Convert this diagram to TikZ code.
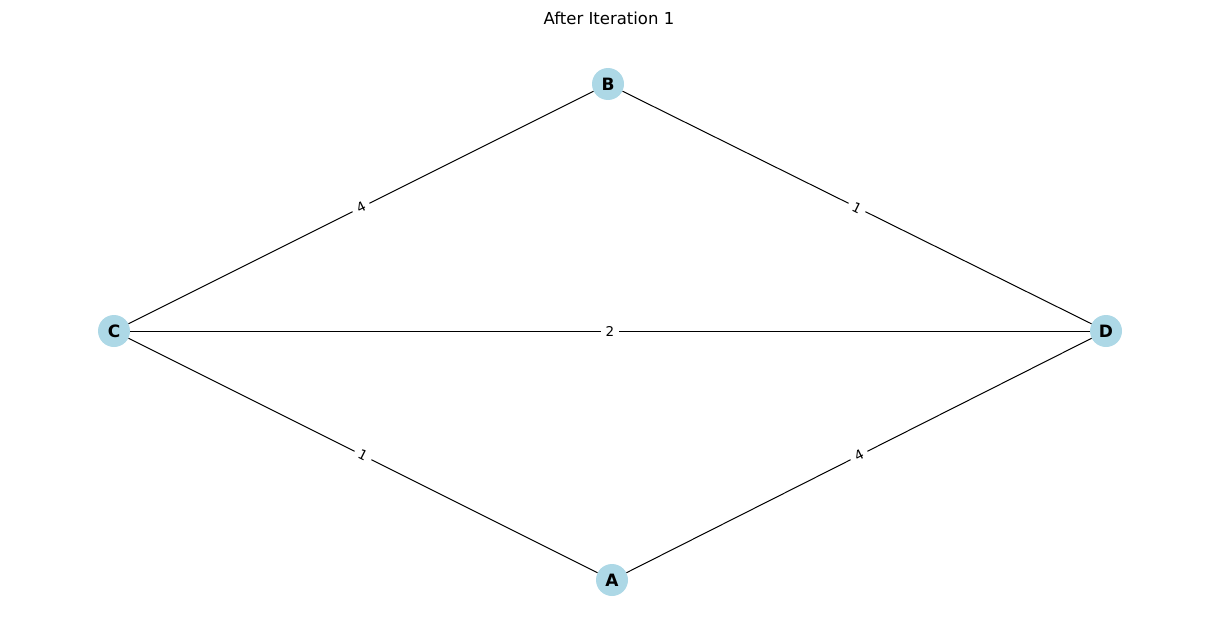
\documentclass[tikz,border=0pt]{standalone}
\usepackage{fontspec}
\setmainfont{DejaVu Sans}
\definecolor{nodeblue}{RGB}{173,216,230}
\begin{document}
\begin{tikzpicture}[x=1pt,y=-1pt,
  vertex/.style={circle,fill=nodeblue,draw=none,minimum size=32pt,inner sep=0pt,font=\fontsize{17}{17}\selectfont\bfseries},
  edge/.style={draw=black,line width=1pt},
  wlabel/.style={fill=white,inner xsep=5pt,inner ysep=2pt,font=\fontsize{13.5}{13.5}\selectfont}]
\useasboundingbox (0,0) rectangle (1220,642);
\node[font=\fontsize{16.5}{16.5}\selectfont] (title) at (609,18) {After Iteration 1};
\node[vertex] (B) at (608,84) {B};
\node[vertex] (C) at (114,331) {C};
\node[vertex] (D) at (1106,331) {D};
\node[vertex] (A) at (612,580) {A};
\draw[edge] (C) -- node[wlabel,sloped] (lCB) {4} (B);
\draw[edge] (B) -- node[wlabel,sloped] (lBD) {1} (D);
\draw[edge] (C) -- node[wlabel,sloped] (lCD) {2} (D);
\draw[edge] (C) -- node[wlabel,sloped] (lCA) {1} (A);
\draw[edge] (A) -- node[wlabel,sloped] (lAD) {4} (D);
\end{tikzpicture}
\end{document}
